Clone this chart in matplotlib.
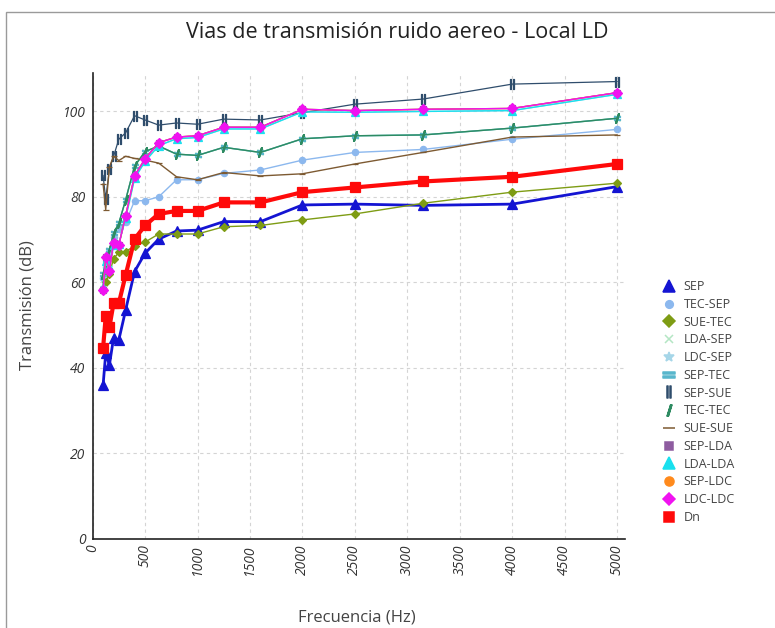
import matplotlib
matplotlib.use("Agg")
import matplotlib.pyplot as plt
from matplotlib.lines import Line2D
from matplotlib.patches import Rectangle

plt.rcParams['font.family'] = ['Open Sans', 'DejaVu Sans']

# Third-octave band centre frequencies (Hz)
freqs = [100, 125, 160, 200, 250, 315, 400, 500, 630, 800, 1000,
         1250, 1600, 2000, 2500, 3150, 4000, 5000]

sep     = [35.9, 43.4, 40.6, 47.0, 46.5, 53.5, 62.5, 66.8, 70.1, 72.0, 72.2,
           74.2, 74.2, 78.1, 78.3, 78.0, 78.3, 82.4]
tec_sep = [61.0, 63.5, 67.0, 70.5, 72.5, 74.0, 79.1, 79.1, 80.0, 84.0, 84.0,
           85.5, 86.3, 88.6, 90.4, 91.1, 93.5, 95.8]
sue_tec = [58.5, 60.0, 62.0, 65.5, 67.0, 67.2, 68.5, 69.4, 71.3, 71.3, 71.3,
           73.0, 73.3, 74.6, 76.0, 78.5, 81.1, 83.2]
lda_sep = [62.0, 64.5, 67.5, 71.5, 73.8, 79.3, 87.2, 90.6, 91.9, 90.0, 89.7,
           91.6, 90.4, 93.6, 94.3, 94.5, 96.1, 98.4]
ldc_sep = [59.0, 65.0, 63.5, 68.8, 69.0, 75.0, 84.3, 88.3, 92.0, 93.6, 93.9,
           95.9, 95.9, 99.9, 99.8, 100.0, 100.2, 104.0]
sep_tec = [62.0, 64.5, 67.5, 71.5, 73.8, 79.3, 87.2, 90.6, 91.9, 90.0, 89.7,
           91.6, 90.4, 93.6, 94.3, 94.5, 96.1, 98.4]
sep_sue = [85.0, 79.5, 86.5, 89.5, 93.5, 95.0, 99.0, 98.0, 96.8, 97.3, 97.0,
           98.2, 98.0, 99.7, 101.7, 102.9, 106.4, 107.0]
tec_tec = [62.0, 64.5, 67.5, 71.5, 73.8, 79.3, 87.2, 90.6, 91.9, 90.0, 89.7,
           91.6, 90.4, 93.6, 94.3, 94.5, 96.1, 98.4]
sue_sue = [83.0, 77.0, 87.0, 89.5, 88.5, 89.5, 89.0, 88.6, 87.9, 84.7, 84.0,
           85.7, 84.9, 85.4, 87.7, 90.4, 94.0, 94.5]
sep_lda = [58.2, 66.0, 62.7, 69.3, 68.7, 75.6, 84.9, 88.9, 92.7, 94.0, 94.3,
           96.3, 96.3, 100.5, 100.2, 100.5, 100.7, 104.4]
lda_lda = [59.0, 65.0, 63.5, 68.8, 69.0, 75.0, 84.3, 88.3, 92.0, 93.6, 93.9,
           95.9, 95.9, 99.9, 99.8, 100.0, 100.2, 104.0]
sep_ldc = [58.2, 66.0, 62.7, 69.3, 68.7, 75.6, 84.9, 88.9, 92.7, 94.0, 94.3,
           96.3, 96.3, 100.5, 100.2, 100.5, 100.7, 104.4]
ldc_ldc = [58.2, 66.0, 62.7, 69.3, 68.7, 75.6, 84.9, 88.9, 92.7, 94.0, 94.3,
           96.3, 96.3, 100.5, 100.2, 100.5, 100.7, 104.4]
dn      = [44.6, 52.0, 49.5, 55.1, 55.1, 61.7, 70.1, 73.3, 76.0, 76.7, 76.7,
           78.7, 78.7, 81.1, 82.2, 83.6, 84.7, 87.7]

series_names = ['SEP', 'TEC-SEP', 'SUE-TEC', 'LDA-SEP', 'LDC-SEP', 'SEP-TEC',
                'SEP-SUE', 'TEC-TEC', 'SUE-SUE', 'SEP-LDA', 'LDA-LDA',
                'SEP-LDC', 'LDC-LDC', 'Dn']
series_values = [sep, tec_sep, sue_tec, lda_sep, ldc_sep, sep_tec, sep_sue,
                 tec_tec, sue_sue, sep_lda, lda_lda, sep_ldc, ldc_ldc, dn]

# colour, marker, marker size, line width, legend marker size
styles = {
    'SEP':     ('#1414d2', '^', 6.5, 2.0, 8),
    'TEC-SEP': ('#8cb8ee', 'o', 4.5, 1.0, 5.5),
    'SUE-TEC': ('#7e9c14', 'D', 4.2, 1.0, 6),
    'LDA-SEP': ('#b4e6c4', 'x', 4.5, 1.0, 6),
    'LDC-SEP': ('#a6d6e8', '*', 5, 1.0, 7),
    'SEP-TEC': ('#58b6cc', '$=$', 5, 1.0, 8),
    'SEP-SUE': ('#2f4d6c', '$||$', 6.5, 0.9, 8),
    'TEC-TEC': ('#2e8b62', '$/\\!\\!/$', 6.5, 1.0, 8),
    'SUE-SUE': ('#7d5a32', '_', 5, 1.0, 8),
    'SEP-LDA': ('#8e5ca0', 's', 4.5, 1.0, 6),
    'LDA-LDA': ('#19e0ee', '^', 5.5, 1.0, 8),
    'SEP-LDC': ('#ff8a1c', 'o', 4.5, 1.0, 6.5),
    'LDC-LDC': ('#f012f0', 'D', 5.5, 1.0, 6.5),
    'Dn':      ('#ff0a0a', 's', 6.8, 3.0, 7.5),
}

fig = plt.figure(figsize=(7.75, 6.28), dpi=100)
fig.patches.append(Rectangle((6 / 775, -0.05), 1.2, 1 - 12 / 628 + 0.05,
                             transform=fig.transFigure, fill=False,
                             edgecolor='#9a9a9a', linewidth=1.0))

ax = fig.add_axes([92.6 / 775, (628 - 538.5) / 628,
                   (625 - 92.6) / 775, (538.5 - 73) / 628])

handles = []
for name, vals in zip(series_names, series_values):
    col, mk, ms, lw, lms = styles[name]
    ax.plot(freqs, vals, color=col, marker=mk, markersize=ms, linewidth=lw,
            markeredgewidth=0.9, zorder=3)
    handles.append(Line2D([], [], color=col, marker=mk, markersize=lms,
                          linestyle='none', markeredgewidth=1.1))

ax.set_xlim(0, 5075)
ax.set_ylim(0, 109)
ax.set_xticks(range(0, 5001, 500))
ax.set_yticks(range(0, 101, 20))
ax.tick_params(axis='both', length=0, labelsize=10, colors='#333333')
for lbl in ax.get_xticklabels():
    lbl.set_rotation(90)
    lbl.set_fontstyle('italic')
for lbl in ax.get_yticklabels():
    lbl.set_fontstyle('italic')
ax.tick_params(axis='x', pad=4)
ax.tick_params(axis='y', pad=5)

ax.grid(True, color='#d4d4d4', linestyle=(0, (3, 3)), linewidth=0.8)
ax.set_axisbelow(True)
for side in ('top', 'right'):
    ax.spines[side].set_visible(False)
for side in ('left', 'bottom'):
    ax.spines[side].set_color('#222222')
    ax.spines[side].set_linewidth(1.2)

fig.text(397 / 775, 1 - 32 / 628, 'Vias de transmisión ruido aereo - Local LD',
         ha='center', va='center', fontsize=15.5, color='#222222')
fig.text(357 / 775, 1 - 617 / 628, 'Frecuencia (Hz)', ha='center',
         va='center', fontsize=12, color='#444444')
fig.text(28 / 775, 1 - 305 / 628, 'Transmisión (dB)', ha='center',
         va='center', rotation=90, fontsize=12, color='#444444')

fig.legend(handles, series_names, loc='center left',
           bbox_to_anchor=(650 / 775, 1 - 402 / 628), frameon=False,
           fontsize=9, labelspacing=0.38, handletextpad=0.6,
           handlelength=1.2, labelcolor='#444444')

fig.savefig('out.png', dpi=100)
